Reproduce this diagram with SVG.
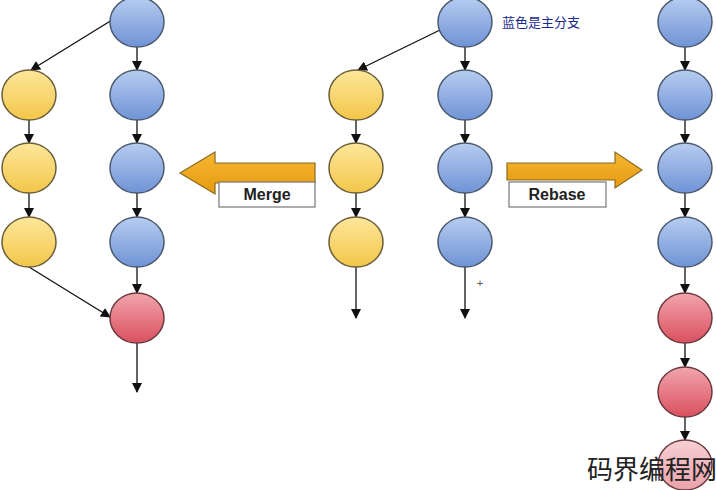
<svg xmlns="http://www.w3.org/2000/svg" width="716" height="490" viewBox="0 0 716 490">
<defs>
<linearGradient id="gb" x1="0" y1="0" x2="0" y2="1"><stop offset="0" stop-color="#b7cdf0"/><stop offset="1" stop-color="#6f93d6"/></linearGradient>
<linearGradient id="gy" x1="0" y1="0" x2="0" y2="1"><stop offset="0" stop-color="#fde79a"/><stop offset="1" stop-color="#f3c64a"/></linearGradient>
<linearGradient id="gr" x1="0" y1="0" x2="0" y2="1"><stop offset="0" stop-color="#f2a5ad"/><stop offset="1" stop-color="#d9505f"/></linearGradient>
<linearGradient id="gp" x1="0" y1="0" x2="0" y2="1"><stop offset="0" stop-color="#f7d0d4"/><stop offset="1" stop-color="#eba2aa"/></linearGradient>
<linearGradient id="go" x1="0" y1="0" x2="0" y2="1"><stop offset="0" stop-color="#f7b733"/><stop offset="1" stop-color="#e59a10"/></linearGradient>
<marker id="ah" markerWidth="10" markerHeight="10" refX="9" refY="5" orient="auto" markerUnits="userSpaceOnUse"><path d="M0,0 L10,5 L0,10 Z" fill="#111"/></marker>
</defs>
<style>
.b{fill:url(#gb);stroke:#4b5a70;stroke-width:1.5}
.y{fill:url(#gy);stroke:#6b5e3a;stroke-width:1.5}
.r{fill:url(#gr);stroke:#6b3a40;stroke-width:1.5}
.p{fill:url(#gp);stroke:#6b3a40;stroke-width:1.5}
.c line{stroke:#111;stroke-width:1.3;marker-end:url(#ah)}
.lbl{font-family:"Liberation Sans",Arial,sans-serif;font-weight:bold;font-size:16px;fill:#222;text-anchor:middle}
</style>
<rect width="716" height="490" fill="#fff"/>
<g id="connectors" class="c">
<line x1="112" y1="20" x2="31" y2="70"/>
<line x1="29" y1="120" x2="29" y2="143"/>
<line x1="29" y1="193" x2="29" y2="217"/>
<line x1="29" y1="267" x2="110" y2="317"/>
<line x1="137" y1="47" x2="137" y2="70"/>
<line x1="137" y1="120" x2="137" y2="143"/>
<line x1="137" y1="193" x2="137" y2="217"/>
<line x1="137" y1="267" x2="137" y2="293"/>
<line x1="137" y1="343" x2="137" y2="392"/>
<line x1="440" y1="30" x2="358" y2="70"/>
<line x1="356" y1="120" x2="356" y2="143"/>
<line x1="356" y1="193" x2="356" y2="217"/>
<line x1="356" y1="267" x2="356" y2="318"/>
<line x1="465" y1="47" x2="465" y2="70"/>
<line x1="465" y1="120" x2="465" y2="143"/>
<line x1="465" y1="193" x2="465" y2="217"/>
<line x1="465" y1="267" x2="465" y2="318"/>
<line x1="685" y1="47" x2="685" y2="70"/>
<line x1="685" y1="120" x2="685" y2="143"/>
<line x1="685" y1="193" x2="685" y2="217"/>
<line x1="685" y1="267" x2="685" y2="293"/>
<line x1="685" y1="343" x2="685" y2="367"/>
<line x1="685" y1="417" x2="685" y2="440"/>
</g>
<g id="merge-left">
<ellipse class="b" cx="137" cy="22" rx="27" ry="25"/>
<ellipse class="b" cx="137" cy="95" rx="27" ry="25"/>
<ellipse class="b" cx="137" cy="168" rx="27" ry="25"/>
<ellipse class="b" cx="137" cy="242" rx="27" ry="25"/>
<ellipse class="r" cx="137" cy="318" rx="27" ry="25"/>
<ellipse class="y" cx="29" cy="95" rx="27" ry="25"/>
<ellipse class="y" cx="29" cy="168" rx="27" ry="25"/>
<ellipse class="y" cx="29" cy="242" rx="27" ry="25"/>
</g>
<g id="middle">
<ellipse class="y" cx="356" cy="95" rx="27" ry="25"/>
<ellipse class="y" cx="356" cy="168" rx="27" ry="25"/>
<ellipse class="y" cx="356" cy="242" rx="27" ry="25"/>
<ellipse class="b" cx="465" cy="22" rx="27" ry="25"/>
<ellipse class="b" cx="465" cy="95" rx="27" ry="25"/>
<ellipse class="b" cx="465" cy="168" rx="27" ry="25"/>
<ellipse class="b" cx="465" cy="242" rx="27" ry="25"/>
<text x="502" y="27" font-family="'Noto Sans CJK SC',sans-serif" font-size="13" fill="#1a2a8a">蓝色是主分支</text>
<text x="480" y="287" font-family="'Liberation Sans',sans-serif" font-size="11" fill="#555" text-anchor="middle">+</text>
</g>
<g id="rebase-right">
<ellipse class="b" cx="685" cy="22" rx="27" ry="25"/>
<ellipse class="b" cx="685" cy="95" rx="27" ry="25"/>
<ellipse class="b" cx="685" cy="168" rx="27" ry="25"/>
<ellipse class="b" cx="685" cy="242" rx="27" ry="25"/>
<ellipse class="r" cx="685" cy="318" rx="27" ry="25"/>
<ellipse class="r" cx="685" cy="392" rx="27" ry="25"/>
<ellipse class="p" cx="685" cy="465" rx="27" ry="25"/>
</g>
<g id="merge-arrow">
<path d="M315,163 L215,163 L215,152 L180,173 L215,194 L215,183 L315,183 Z" fill="url(#go)" stroke="#8a6a20" stroke-width="1.2"/>
<rect x="219" y="182" width="96" height="25" fill="#fff" stroke="#777" stroke-width="1.2"/>
<text class="lbl" x="267" y="200">Merge</text>
</g>
<g id="rebase-arrow">
<path d="M507,163 L615,163 L615,152 L642,170 L615,188 L615,180 L507,180 Z" fill="url(#go)" stroke="#8a6a20" stroke-width="1.2"/>
<rect x="509" y="182" width="97" height="25" fill="#fff" stroke="#777" stroke-width="1.2"/>
<text class="lbl" x="557" y="200">Rebase</text>
</g>
<text x="652" y="479" font-family="'Noto Sans CJK SC',sans-serif" font-size="26" fill="#222" text-anchor="middle">码界编程网</text>
</svg>
